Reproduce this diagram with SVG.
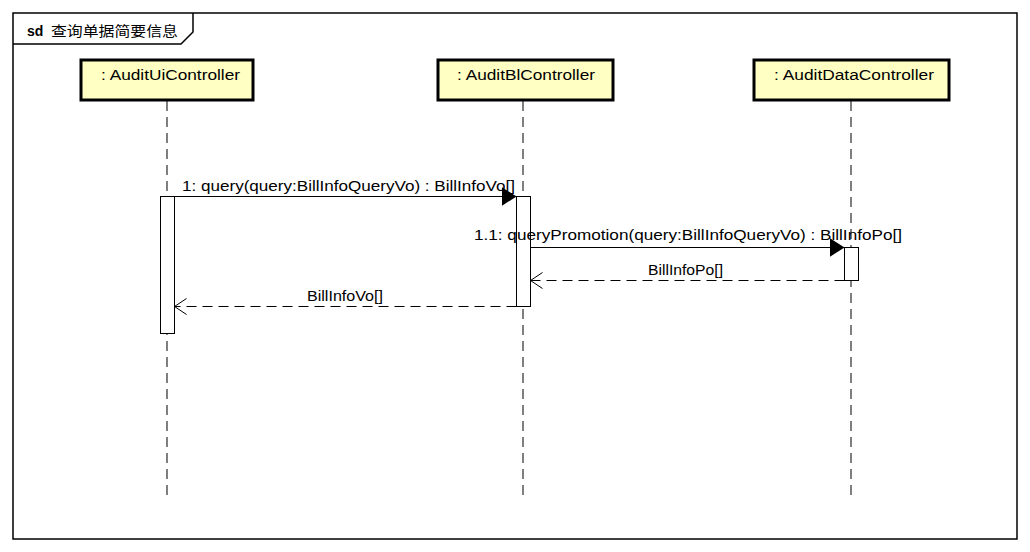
<svg xmlns="http://www.w3.org/2000/svg" width="1030" height="552" viewBox="0 0 1030 552">
  <style>
    text { font-family: "Liberation Sans", "Noto Sans CJK SC", sans-serif; font-size: 14px; fill: #000; }
    .frame { fill: none; stroke: #000; stroke-width: 1.5; }
    .head { fill: #FFFFC4; stroke: #000; stroke-width: 3; }
    .life { stroke: #000; stroke-width: 1; stroke-dasharray: 10 6; fill: none; }
    .act { fill: #fff; stroke: #000; stroke-width: 1; }
    .call { stroke: #000; stroke-width: 1; fill: none; }
    .ret { stroke: #000; stroke-width: 1; stroke-dasharray: 10 6; fill: none; }
  </style>
  <defs>
    <marker id="solidHead" markerWidth="16" markerHeight="20" refX="15" refY="9.5" orient="auto" markerUnits="userSpaceOnUse">
      <path d="M0,0 L15,9.5 L0,19 Z" fill="#000"/>
    </marker>
    <marker id="openHead" markerWidth="16" markerHeight="20" refX="13" refY="9" orient="auto" markerUnits="userSpaceOnUse">
      <path d="M1,1 L13,9 L1,17" fill="none" stroke="#000" stroke-width="1"/>
    </marker>
  </defs>

  <rect width="1030" height="552" fill="#fff"/>

  <!-- sequence diagram frame with name tab -->
  <g id="frame">
    <rect class="frame" x="13" y="13" width="1004" height="526"/>
    <path class="frame" d="M13,44 L181,44 L193,32 L193,13"/>
    <text x="27" y="36" font-weight="bold" font-size="15">sd</text>
    <text x="51" y="36" font-size="15" textLength="127" lengthAdjust="spacingAndGlyphs">查询单据简要信息</text>
  </g>

  <!-- lifelines -->
  <g id="lifelines">
    <line class="life" x1="167" y1="101" x2="167" y2="499"/>
    <line class="life" x1="523" y1="101" x2="523" y2="499"/>
    <line class="life" x1="851" y1="101" x2="851" y2="499"/>
  </g>

  <g id="auditUiController">
    <rect class="head" x="81" y="60" width="172" height="40"/>
    <text x="101" y="80" textLength="139" lengthAdjust="spacingAndGlyphs">: AuditUiController</text>
    <rect class="act" x="160.5" y="196.5" width="14" height="137"/>
  </g>

  <g id="auditBlController">
    <rect class="head" x="438" y="60" width="175" height="40"/>
    <text x="457" y="80" textLength="138" lengthAdjust="spacingAndGlyphs">: AuditBlController</text>
    <rect class="act" x="516.5" y="196.5" width="14" height="110"/>
  </g>

  <g id="auditDataController">
    <rect class="head" x="754" y="60" width="195" height="40"/>
    <text x="774" y="80" textLength="160" lengthAdjust="spacingAndGlyphs">: AuditDataController</text>
    <rect class="act" x="844.5" y="247.5" width="14" height="33"/>
  </g>

  <!-- messages -->
  <g id="connectors">
    <line class="call" x1="174.5" y1="196.5" x2="516.5" y2="196.5" marker-end="url(#solidHead)"/>
    <text x="182" y="191" textLength="333" lengthAdjust="spacingAndGlyphs">1: query(query:BillInfoQueryVo) : BillInfoVo[]</text>

    <line class="call" x1="530.5" y1="247.5" x2="844.5" y2="247.5" marker-end="url(#solidHead)"/>
    <text x="474" y="240" textLength="428" lengthAdjust="spacingAndGlyphs">1.1: queryPromotion(query:BillInfoQueryVo) : BillInfoPo[]</text>

    <line class="ret" x1="844.5" y1="280.5" x2="530.5" y2="280.5" marker-end="url(#openHead)"/>
    <text x="648" y="275" textLength="75" lengthAdjust="spacingAndGlyphs">BillInfoPo[]</text>

    <line class="ret" x1="516.5" y1="306.5" x2="174.5" y2="306.5" marker-end="url(#openHead)"/>
    <text x="307" y="301" textLength="76" lengthAdjust="spacingAndGlyphs">BillInfoVo[]</text>
  </g>
</svg>
